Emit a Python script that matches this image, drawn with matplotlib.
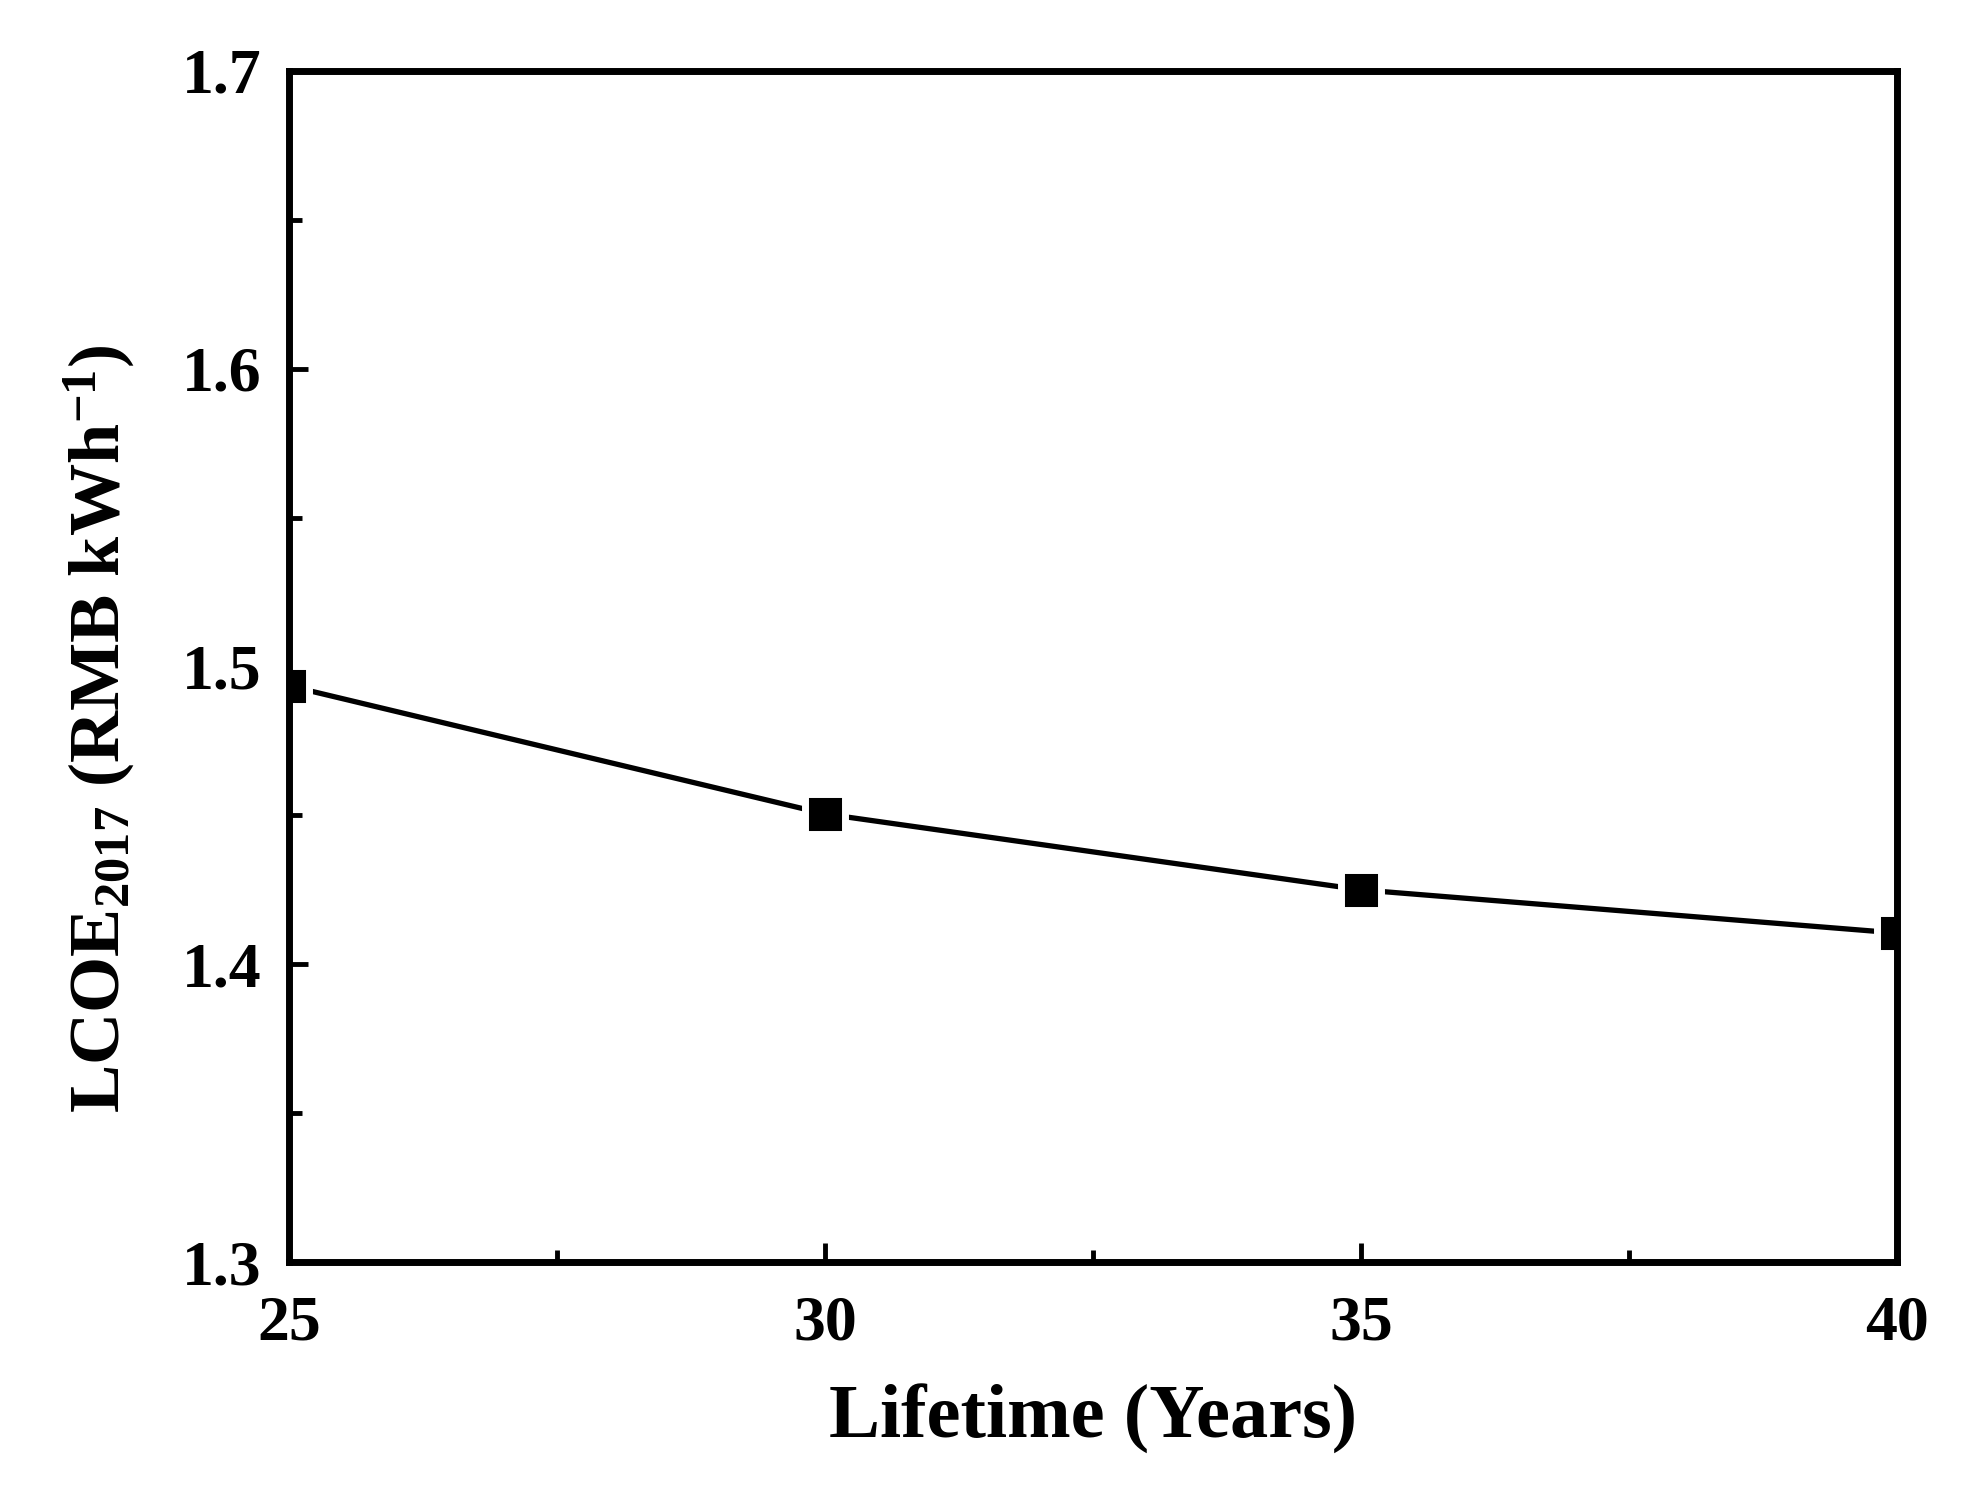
import matplotlib
matplotlib.use("Agg")
import matplotlib.pyplot as plt
from matplotlib.ticker import MultipleLocator

# Valeurs
lifetime = [25, 30, 35, 40]
lcoe = [1.4935, 1.4505, 1.425, 1.4105]

plt.rcParams['font.family'] = ['Liberation Serif', 'DejaVu Serif']
plt.rcParams['font.weight'] = 'bold'
plt.rcParams['mathtext.fontset'] = 'custom'
plt.rcParams['mathtext.rm'] = 'Liberation Serif:bold'
plt.rcParams['mathtext.it'] = 'Liberation Serif:bold'
plt.rcParams['mathtext.bf'] = 'Liberation Serif:bold'

fig = plt.figure(figsize=(19.63, 15.10), dpi=100)
ax = fig.add_axes([0.1472, 0.1642, 0.8192, 0.7888])

# Courbe avec marqueurs carrés (bord blanc pour couper la ligne)
ax.plot(lifetime, lcoe, color='black', lw=3.8, marker='s', ms=28.5,
        markerfacecolor='black', markeredgecolor='white', mew=5)

ax.set_xlim(25, 40)
ax.set_ylim(1.3, 1.7)
ax.xaxis.set_major_locator(MultipleLocator(5))
ax.xaxis.set_minor_locator(MultipleLocator(2.5))
ax.yaxis.set_major_locator(MultipleLocator(0.1))
ax.yaxis.set_minor_locator(MultipleLocator(0.05))

for s in ax.spines.values():
    s.set_linewidth(5)

ax.tick_params(which='major', direction='in', length=14, width=3.5,
               labelsize=46, top=False, right=False)
ax.tick_params(which='minor', direction='in', length=9, width=3.5,
               top=False, right=False)
ax.tick_params(axis='x', which='major', pad=24)
ax.tick_params(axis='y', which='major', pad=20)
for lab in ax.get_xticklabels() + ax.get_yticklabels():
    lab.set_fontweight('bold')

ax.set_xlabel('Lifetime (Years)', fontsize=55, fontweight='bold', labelpad=22)
ax.set_ylabel(r'LCOE$_{\mathregular{2017}}$ (RMB kWh$^{\mathregular{-1}}$)',
              fontsize=52, fontweight='bold')
ax.yaxis.set_label_coords(-0.095, 0.448)

fig.savefig('out.png', dpi=100)
